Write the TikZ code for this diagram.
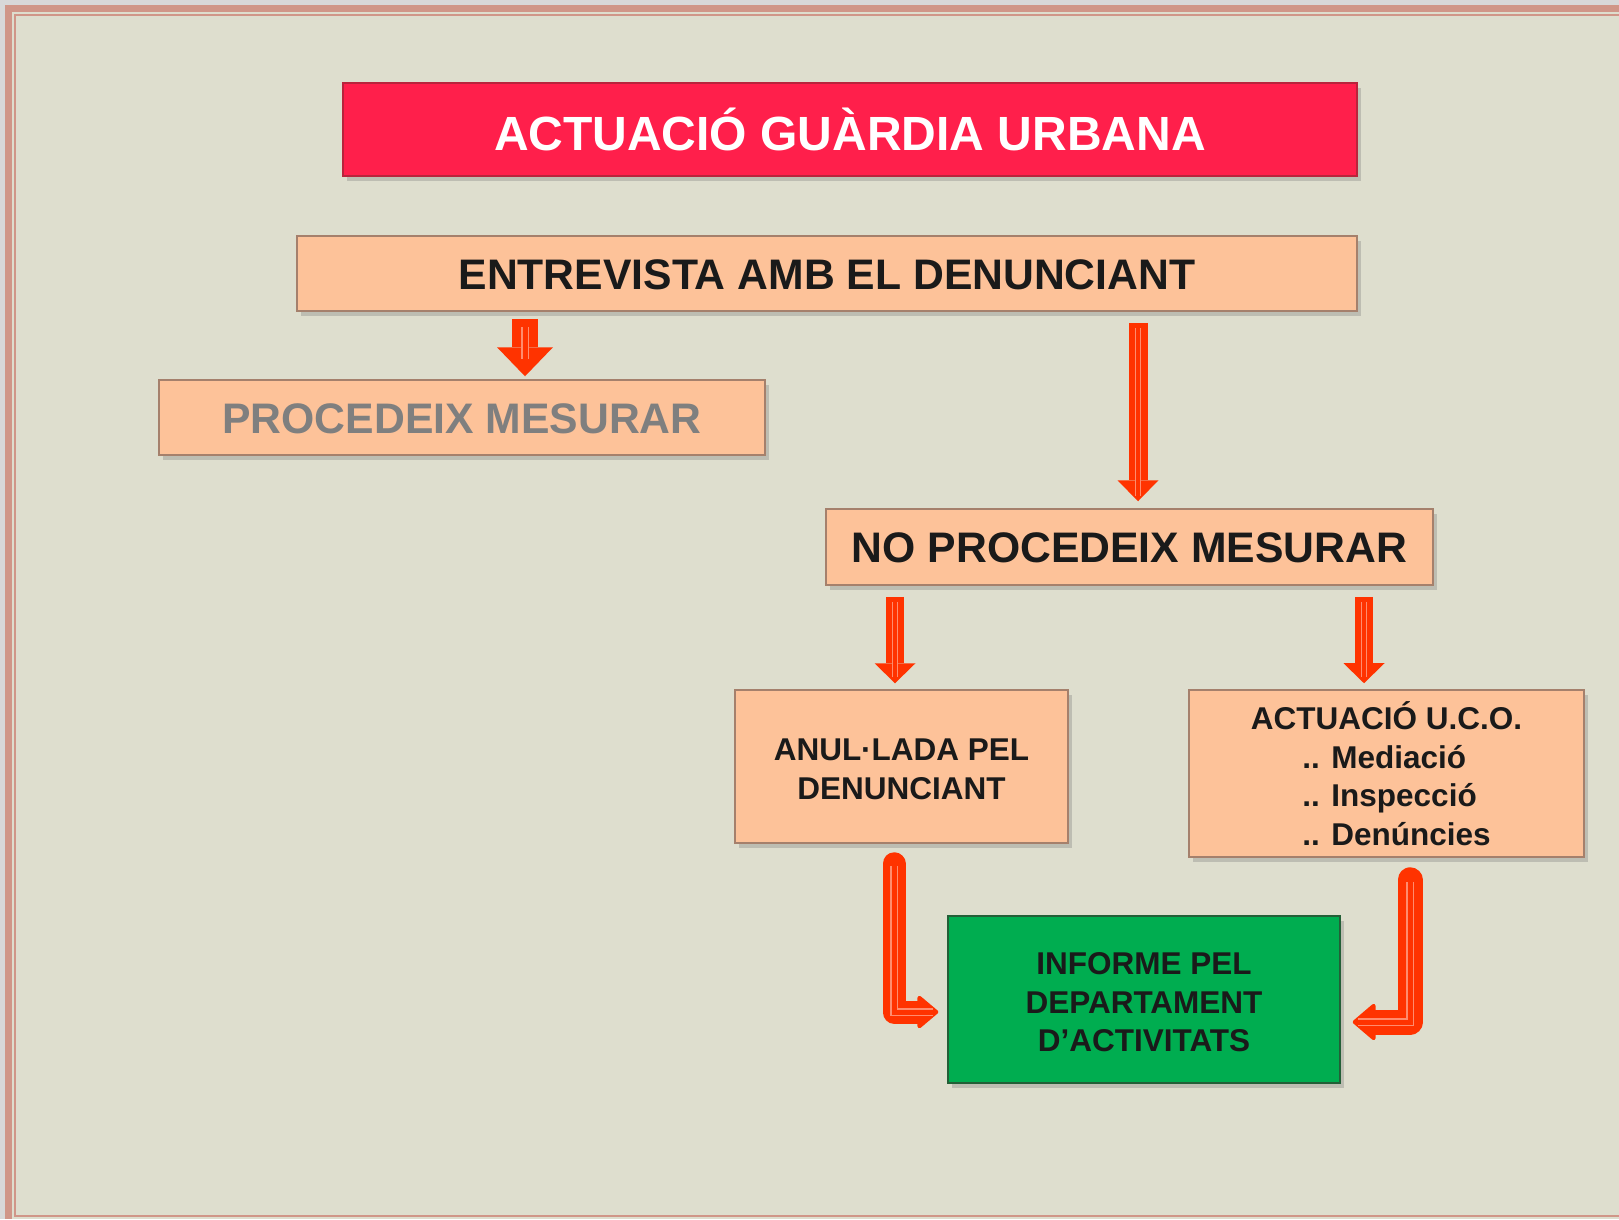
\documentclass[tikz,border=0pt]{standalone}
\usepackage{fontspec}
\setmainfont{Liberation Sans}
\usetikzlibrary{arrows.meta}
\usetikzlibrary{shadows}

\definecolor{paperbg}{RGB}{222,222,206}
\definecolor{outergray}{RGB}{216,216,216}
\definecolor{framepink}{RGB}{208,150,136}
\definecolor{titlered}{RGB}{255,31,75}
\definecolor{titleedge}{RGB}{185,35,60}
\definecolor{peach}{RGB}{253,194,153}
\definecolor{peachedge}{RGB}{165,128,108}
\definecolor{informegreen}{RGB}{0,173,80}
\definecolor{greenedge}{RGB}{35,95,55}
\definecolor{arrowred}{RGB}{255,51,0}
\definecolor{arrowstripe}{RGB}{255,140,110}
\definecolor{inkblack}{RGB}{26,26,26}
\definecolor{graytext}{RGB}{127,127,127}

\tikzset{
  box/.style={draw=peachedge, fill=peach, line width=1.5pt, inner sep=0pt, text=inkblack, align=center,
    drop shadow={shadow xshift=4pt, shadow yshift=-5pt, opacity=0.35}},
  bigtext/.style={font=\fontsize{42.7}{50}\selectfont\bfseries, text height=31pt, text depth=0pt},
  smalltext/.style={font=\fontsize{31.5}{38.5}\selectfont\bfseries},
  blockarrow/.style n args={3}{draw=arrowred, line width=#1, -{Triangle[length=#2, width=#3, line width=0pt]}},
  bentarrow/.style n args={3}{draw=arrowred, line width=#1, line cap=round, line join=round,
    -{Triangle[round, length=#2, width=#3, line width=4pt]}},
  stripe/.style={draw=arrowstripe, line width=1.3pt, double=arrowred, double distance=#1}
}

\begin{document}
\begin{tikzpicture}[x=1pt,y=1pt,yscale=-1,xscale=1]
\useasboundingbox (0,0) rectangle (1619,1219);

%Shape: Page frame
\fill[outergray] (0,0) rectangle (1619,1219);
\fill[paperbg] (5,5) rectangle (1619,1219);
\fill[framepink] (5,5) rectangle (1619,12);
\fill[framepink] (5,5) rectangle (12,1219);
\draw[framepink, line width=2pt] (1619,15) -- (15,15) -- (15,1216) -- (1619,1216);

% Text Node
\node[box, draw=titleedge, fill=titlered, text=white, minimum width=1014pt, minimum height=93pt,
  font=\fontsize{48}{56}\selectfont\bfseries, text height=41pt, text depth=0pt]
  (guardia) at (850,129.5) {ACTUACIÓ GUÀRDIA URBANA};
% Text Node
\node[box, bigtext, minimum width=1060pt, minimum height=75pt] (entrevista) at (827,273.5) {ENTREVISTA AMB EL DENUNCIANT};
% Text Node
\node[box, bigtext, text=graytext, text height=32pt, minimum width=606pt, minimum height=75pt] (procedeix) at (462,417.5) {PROCEDEIX MESURAR};
% Text Node
\node[box, bigtext, minimum width=607pt, minimum height=76pt] (noproc) at (1129.5,547) {NO PROCEDEIX MESURAR};
% Text Node
\node[box, smalltext, minimum width=333pt, minimum height=153pt] (anul) at (901.5,766.5) {\rule{0pt}{27pt}ANUL·LADA PEL\\DENUNCIANT};
% Text Node
\node[box, smalltext, minimum width=395pt, minimum height=167pt] (uco) at (1386.5,773.5)
  {\rule{0pt}{40pt}ACTUACIÓ U.C.O.\\\hspace*{20pt}\begin{tabular}[t]{@{}l@{}}.. Mediació\\.. Inspecció\\.. Denúncies\end{tabular}};
% Text Node
\node[box, smalltext, draw=greenedge, fill=informegreen, minimum width=392pt, minimum height=167pt] (informe) at (1144,999.5)
  {\rule{0pt}{28pt}INFORME PEL\\DEPARTAMENT\\D’ACTIVITATS};

%Straight Lines
\draw[blockarrow={26pt}{29pt}{56pt}, shorten <=7pt, shorten >=3pt] ([xshift=63pt]procedeix.north |- entrevista.south) -- ([xshift=63pt]procedeix.north);
\draw[stripe=5pt, shorten <=15pt, shorten >=20pt] ([xshift=63pt]procedeix.north |- entrevista.south) -- ([xshift=63pt]procedeix.north);
%Straight Lines
\draw[blockarrow={19pt}{21pt}{41pt}, shorten <=11pt, shorten >=7pt] ([xshift=8.5pt]noproc.north |- entrevista.south) -- ([xshift=8.5pt]noproc.north);
\draw[stripe=4pt, shorten <=16pt, shorten >=12pt] ([xshift=8.5pt]noproc.north |- entrevista.south) -- ([xshift=8.5pt]noproc.north);
%Straight Lines
\draw[blockarrow={18pt}{20pt}{41pt}, shorten <=11pt, shorten >=6pt] ([xshift=-6.5pt]anul.north |- noproc.south) -- ([xshift=-6.5pt]anul.north);
\draw[stripe=4pt, shorten <=16pt, shorten >=12pt] ([xshift=-6.5pt]anul.north |- noproc.south) -- ([xshift=-6.5pt]anul.north);
\draw[blockarrow={18pt}{20pt}{41pt}, shorten <=11pt, shorten >=6pt] ([xshift=-22.5pt]uco.north |- noproc.south) -- ([xshift=-22.5pt]uco.north);
\draw[stripe=4pt, shorten <=16pt, shorten >=12pt] ([xshift=-22.5pt]uco.north |- noproc.south) -- ([xshift=-22.5pt]uco.north);

%Bent Lines
\draw[bentarrow={23pt}{22pt}{36pt}, shorten <=20pt, shorten >=9pt] ([xshift=-7.5pt]anul.south) |- ([yshift=12.5pt]informe.west);
\draw[stripe=5pt, shorten <=22pt, shorten >=14pt] ([xshift=-7.5pt]anul.south) |- ([yshift=12.5pt]informe.west);
\draw[bentarrow={25pt}{24pt}{40pt}, shorten <=22pt, shorten >=12pt] ([xshift=23.5pt]uco.south) |- ([yshift=22.5pt]informe.east);
\draw[stripe=5pt, shorten <=24pt, shorten >=17pt] ([xshift=23.5pt]uco.south) |- ([yshift=22.5pt]informe.east);

\end{tikzpicture}
\end{document}
